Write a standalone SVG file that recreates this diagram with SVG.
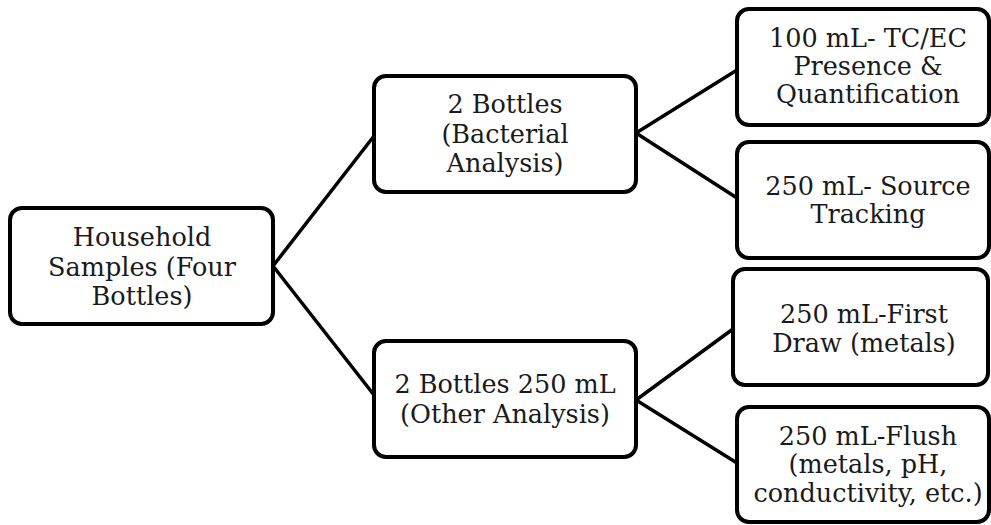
<svg xmlns="http://www.w3.org/2000/svg" width="991" height="525" viewBox="0 0 991 525">
<style>
.box{fill:#fff;stroke:#000;stroke-width:4}
.lbl{font-family:"DejaVu Serif","Liberation Serif",serif;font-size:25.5px;fill:#1a1a1a;text-anchor:middle}
.edge{stroke:#000;stroke-width:3.5;fill:none}
</style>
<rect width="991" height="525" fill="#fff"/>
<g id="connectors">
<line class="edge" x1="273" y1="266" x2="374" y2="136"/>
<line class="edge" x1="273" y1="266" x2="374" y2="395"/>
<line class="edge" x1="636" y1="133" x2="737" y2="70"/>
<line class="edge" x1="636" y1="133" x2="737" y2="198"/>
<line class="edge" x1="636" y1="400" x2="733" y2="329"/>
<line class="edge" x1="636" y1="400" x2="737" y2="463"/>
</g>
<g id="household">
<rect class="box" x="10" y="208" width="263" height="116" rx="12"/>
<text class="lbl" x="142" y="246">Household</text>
<text class="lbl" x="142" y="276">Samples (Four</text>
<text class="lbl" x="142" y="305">Bottles)</text>
</g>
<g id="bacterial">
<rect class="box" x="374" y="76" width="262" height="116" rx="12"/>
<text class="lbl" x="505" y="113">2 Bottles</text>
<text class="lbl" x="505" y="143">(Bacterial</text>
<text class="lbl" x="505" y="172">Analysis)</text>
</g>
<g id="other">
<rect class="box" x="374" y="341" width="262" height="116" rx="12"/>
<text class="lbl" x="505" y="393">2 Bottles 250 mL</text>
<text class="lbl" x="505" y="423">(Other Analysis)</text>
</g>
<g id="tcec">
<rect class="box" x="737" y="9" width="252" height="116" rx="12"/>
<text class="lbl" x="868" y="47">100 mL- TC/EC</text>
<text class="lbl" x="868" y="75">Presence &amp;</text>
<text class="lbl" x="868" y="103">Quantification</text>
</g>
<g id="source">
<rect class="box" x="737" y="142" width="252" height="116" rx="12"/>
<text class="lbl" x="868" y="195">250 mL- Source</text>
<text class="lbl" x="868" y="223">Tracking</text>
</g>
<g id="firstdraw">
<rect class="box" x="733" y="269" width="255" height="116" rx="12"/>
<text class="lbl" x="864" y="323">250 mL-First</text>
<text class="lbl" x="864" y="352">Draw (metals)</text>
</g>
<g id="flush">
<rect class="box" x="737" y="407" width="252" height="115" rx="12"/>
<text class="lbl" x="868" y="445">250 mL-Flush</text>
<text class="lbl" x="868" y="473">(metals, pH,</text>
<text class="lbl" x="868" y="502">conductivity, etc.)</text>
</g>
</svg>
